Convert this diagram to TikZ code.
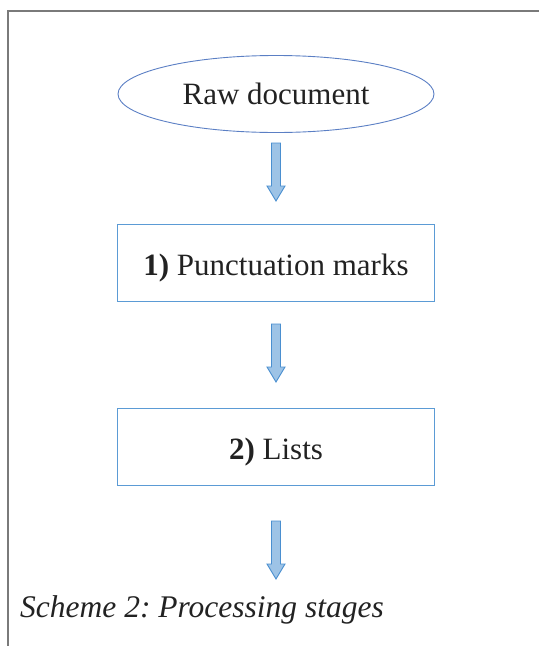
\documentclass[tikz,border=0pt]{standalone}
\usepackage{fontspec}
\setmainfont{Liberation Serif}
\usepackage{tikz}
\usetikzlibrary{shapes.geometric,positioning}
\frenchspacing

\definecolor{rimblue}{HTML}{5B7FC4}
\definecolor{boxblue}{HTML}{5B9BD5}
\definecolor{arrowfill}{HTML}{9DC3E6}
\definecolor{arrowrim}{HTML}{4A8FD0}
\definecolor{framegray}{HTML}{7A7A7A}
\definecolor{inkgray}{HTML}{222222}

\begin{document}
\begin{tikzpicture}[x=1pt,y=1pt,
		stagebox/.style={draw=boxblue,line width=0.9pt,minimum width=317pt,minimum height=77pt,inner sep=0pt,
			text height=29pt,text depth=4pt,text=inkgray,font=\fontsize{31}{37}\selectfont},
		startoval/.style={ellipse,draw=rimblue,line width=0.9pt,minimum width=316pt,minimum height=77pt,inner sep=0pt,
			text=inkgray,font=\fontsize{31}{37}\selectfont},
		blockarrow/.style={fill=arrowfill,draw=arrowrim,line width=0.9pt,line join=miter},
		pics/downarrow/.style={code={
				\draw[blockarrow] (-4.5,0) -- (4.5,0) -- (4.5,-43) -- (9,-43) -- (0,-58)
				-- (-9,-43) -- (-4.5,-43) -- cycle;
		}}]
			
			\useasboundingbox (0,0) rectangle (539,-646);
			
			% Rahmen
			\draw[framegray,line width=1.3pt] (8,-646) -- (8,-11) -- (539,-11);
			
			% Stufen
			\node[startoval] (raw) at (276,-94) {Raw document};
			\node[stagebox] (punct) at (276,-262.5) {\textbf{1)} Punctuation marks};
			\node[stagebox] (lists) at (276,-446.5) {\textbf{2)} Lists};
			
			% Pfeile
			\foreach \top in {143,324,521}
				\pic at (276,-\top) {downarrow};
			
			% Beschriftung
			\node[anchor=base west,inner sep=0pt,text=inkgray,font=\fontsize{31.5}{37}\selectfont\itshape] (caption)
				at (20,-617) {Scheme 2: Processing stages};
			
		\end{tikzpicture}
\end{document}
